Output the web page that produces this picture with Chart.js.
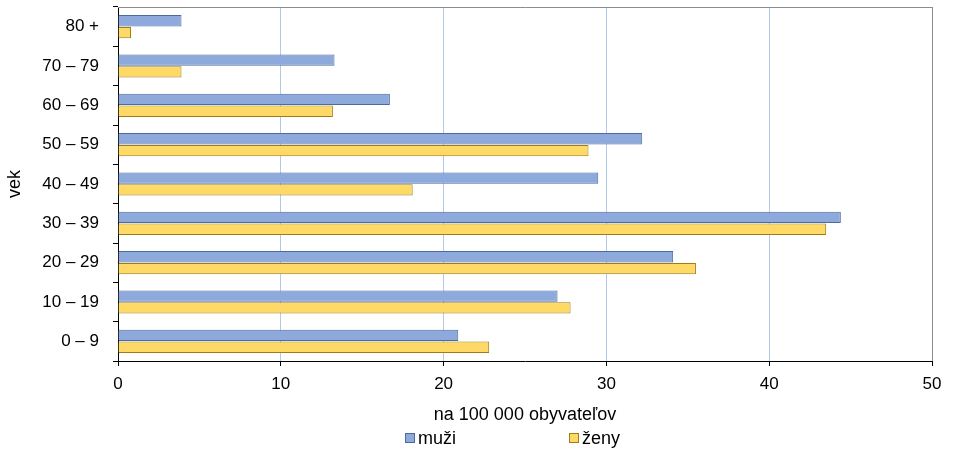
<!DOCTYPE html>
<html>
<head>
<meta charset="utf-8">
<script src="https://cdn.jsdelivr.net/npm/chart.js@4.4.0/dist/chart.umd.min.js"></script>
<style>
  html, body { margin: 0; padding: 0; background: #fff; }
  #wrap { width: 953px; height: 449px; }
</style>
</head>
<body>
<div id="wrap"><canvas id="ageChart"></canvas></div>
<script>
// age groups, top to bottom
const ageGroups = ['80 +', '70 – 79', '60 – 69', '50 – 59', '40 – 49', '30 – 39', '20 – 29', '10 – 19', '0 – 9'];
const muzi = [3.9, 13.3, 16.7, 32.2, 29.5, 44.4, 34.1, 27.0, 20.9];
const zeny = [0.8, 3.9, 13.2, 28.9, 18.1, 43.5, 35.5, 27.8, 22.8];
const xTicks = [0, 10, 20, 30, 40, 50];

const FONT = 'Liberation Sans, Arial, sans-serif';
Chart.defaults.font.family = FONT;
Chart.defaults.font.size = 17;
Chart.defaults.color = '#000';

// top/right frame of the plot area
const framePlugin = {
  id: 'frame',
  beforeDatasetsDraw(chart) {
    const { ctx, chartArea: a } = chart;
    ctx.save();
    ctx.strokeStyle = '#8c8c8c';
    ctx.lineWidth = 1;
    ctx.beginPath();
    ctx.moveTo(a.left, a.top + 0.5);
    ctx.lineTo(a.right + 0.5, a.top + 0.5);
    ctx.lineTo(a.right + 0.5, a.bottom);
    ctx.stroke();
    ctx.restore();
  }
};

// legend row below the axis title
const legendRow = {
  id: 'legendRow',
  afterDraw(chart) {
    const { ctx } = chart;
    const spots = [405, 569];
    ctx.save();
    ctx.font = '18px ' + FONT;
    ctx.textBaseline = 'middle';
    chart.data.datasets.forEach((ds, i) => {
      const x = spots[i], y = 438;
      ctx.fillStyle = ds.backgroundColor;
      ctx.fillRect(x, y - 5, 10, 10);
      ctx.strokeStyle = ds.borderColor;
      ctx.lineWidth = 1;
      ctx.strokeRect(x + 0.5, y - 4.5, 9, 9);
      ctx.fillStyle = '#000';
      ctx.fillText(ds.label, x + 13, y + 1);
    });
    ctx.restore();
  }
};

new Chart(document.getElementById('ageChart'), {
  type: 'bar',
  data: {
    labels: ageGroups,
    datasets: [
      {
        label: 'muži',
        data: muzi,
        backgroundColor: '#8eaadc',
        borderColor: '#4a6b9c',
        borderWidth: 1,
        categoryPercentage: 0.6,
        barPercentage: 0.96
      },
      {
        label: 'ženy',
        data: zeny,
        backgroundColor: '#ffd966',
        borderColor: '#9c7c1c',
        borderWidth: 1,
        categoryPercentage: 0.6,
        barPercentage: 0.96
      }
    ]
  },
  options: {
    indexAxis: 'y',
    responsive: true,
    maintainAspectRatio: false,
    animation: false,
    layout: { padding: { top: 7, right: 21, bottom: 0, left: 0 } },
    plugins: {
      legend: { display: false },
      tooltip: { enabled: false }
    },
    scales: {
      x: {
        min: 0,
        max: 50,
        afterBuildTicks: axis => { axis.ticks = xTicks.map(v => ({ value: v })); },
        afterFit: axis => { axis.height = 88; },
        ticks: { padding: 8, maxRotation: 0 },
        grid: {
          color: c => c.index === 0 ? 'rgba(0,0,0,0)' : (c.tick && c.tick.value === 50 ? '#8c8c8c' : '#b0cbe8'),
          tickColor: '#000',
          tickLength: 5
        },
        border: { color: '#000', width: 1 },
        title: {
          display: true,
          text: 'na 100 000 obyvateľov',
          font: { size: 18 },
          padding: { top: 0, bottom: 23 }
        }
      },
      y: {
        afterFit: axis => {
          axis.width = 118;
          axis.paddingTop = 0;
          axis.paddingBottom = 0;
        },
        ticks: { padding: 14 },
        grid: {
          drawOnChartArea: false,
          tickColor: '#000',
          tickLength: 5
        },
        border: { color: '#000', width: 1 },
        title: {
          display: true,
          text: 'vek',
          font: { size: 18 },
          padding: { top: 4, bottom: 0 }
        }
      }
    }
  },
  plugins: [framePlugin, legendRow]
});
</script>
</body>
</html>
